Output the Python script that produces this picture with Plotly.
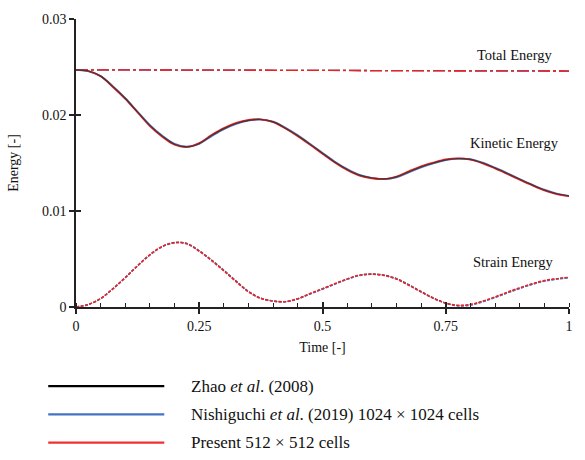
import plotly.graph_objects as go

# ---------------- data ----------------
t_total = [0.0, 0.1, 0.2, 0.3, 0.4, 0.5, 0.6, 0.7, 0.8, 0.9, 1.0]
total_zhao = [0.02471, 0.02469, 0.02467, 0.02465, 0.02464, 0.02463, 0.02462, 0.02461, 0.02460, 0.02459, 0.02458]
total_nishi = [0.02471, 0.02469, 0.02467, 0.02465, 0.02464, 0.02463, 0.02461, 0.02460, 0.02459, 0.02458, 0.02457]
total_present = [0.02471, 0.02470, 0.02468, 0.02466, 0.02465, 0.02464, 0.02462, 0.02461, 0.02460, 0.02459, 0.02458]

t = [0.0, 0.025, 0.05, 0.075, 0.1, 0.125, 0.15, 0.175, 0.2, 0.225, 0.25, 0.275, 0.3, 0.325,
     0.35, 0.375, 0.4, 0.425, 0.45, 0.475, 0.5, 0.525, 0.55, 0.575, 0.6, 0.625, 0.65, 0.675,
     0.7, 0.725, 0.75, 0.775, 0.8, 0.825, 0.85, 0.875, 0.9, 0.925, 0.95, 0.975, 1.0]

kin_zhao = [0.02471, 0.02458, 0.02405, 0.02295, 0.02172, 0.02030, 0.01890, 0.01780, 0.01696, 0.01668,
            0.01703, 0.01786, 0.01858, 0.01912, 0.01944, 0.01953, 0.01928, 0.01863, 0.01784, 0.01694,
            0.01601, 0.01510, 0.01432, 0.01373, 0.01344, 0.01334, 0.01355, 0.01408, 0.01460, 0.01500,
            0.01533, 0.01546, 0.01538, 0.01500, 0.01448, 0.01390, 0.01330, 0.01272, 0.01219, 0.01180,
            0.01157]
kin_nishi = [0.02471, 0.02458, 0.02406, 0.02298, 0.02175, 0.02034, 0.01894, 0.01784, 0.01700, 0.01670,
             0.01700, 0.01780, 0.01853, 0.01908, 0.01941, 0.01952, 0.01930, 0.01866, 0.01788, 0.01698,
             0.01605, 0.01514, 0.01436, 0.01376, 0.01346, 0.01333, 0.01351, 0.01403, 0.01455, 0.01496,
             0.01530, 0.01545, 0.01540, 0.01503, 0.01451, 0.01393, 0.01333, 0.01275, 0.01222, 0.01182,
             0.01158]
kin_present = [0.02471, 0.02457, 0.02403, 0.02292, 0.02168, 0.02026, 0.01885, 0.01774, 0.01690, 0.01667,
               0.01707, 0.01791, 0.01863, 0.01917, 0.01948, 0.01955, 0.01925, 0.01859, 0.01779, 0.01689,
               0.01596, 0.01506, 0.01428, 0.01369, 0.01341, 0.01333, 0.01359, 0.01413, 0.01465, 0.01504,
               0.01537, 0.01548, 0.01535, 0.01497, 0.01444, 0.01386, 0.01326, 0.01268, 0.01215, 0.01177,
               0.01155]

str_zhao = [0.0, 0.00025, 0.00088, 0.00190, 0.00306, 0.00430, 0.00544, 0.00630, 0.00672, 0.00662,
            0.00586, 0.00490, 0.00382, 0.00270, 0.00162, 0.00092, 0.00063, 0.00056, 0.00086, 0.00138,
            0.00188, 0.00240, 0.00290, 0.00330, 0.00344, 0.00332, 0.00296, 0.00232, 0.00162, 0.00094,
            0.00042, 0.00016, 0.00024, 0.00058, 0.00102, 0.00150, 0.00196, 0.00238, 0.00272, 0.00292,
            0.00308]
str_nishi = [0.0, 0.00025, 0.00087, 0.00188, 0.00304, 0.00428, 0.00541, 0.00627, 0.00668, 0.00659,
             0.00583, 0.00486, 0.00378, 0.00266, 0.00159, 0.00090, 0.00062, 0.00054, 0.00083, 0.00135,
             0.00185, 0.00237, 0.00287, 0.00327, 0.00340, 0.00329, 0.00292, 0.00228, 0.00158, 0.00090,
             0.00038, 0.00012, 0.00019, 0.00053, 0.00097, 0.00145, 0.00192, 0.00234, 0.00268, 0.00289,
             0.00304]
str_present = [0.0, 0.00026, 0.00089, 0.00192, 0.00308, 0.00432, 0.00546, 0.00631, 0.00670, 0.00657,
               0.00580, 0.00483, 0.00374, 0.00262, 0.00156, 0.00089, 0.00061, 0.00056, 0.00088, 0.00141,
               0.00191, 0.00243, 0.00293, 0.00332, 0.00342, 0.00328, 0.00290, 0.00226, 0.00156, 0.00090,
               0.00040, 0.00016, 0.00027, 0.00062, 0.00106, 0.00155, 0.00200, 0.00242, 0.00276, 0.00296,
               0.00310]

series_names = ["Zhao <i>et al</i>. (2008)",
                "Nishiguchi <i>et al</i>. (2019) 1024 × 1024 cells",
                "Present 512 × 512 cells"]
series_colors = ["#3a3a3a", "#5577C8", "#FF1A1A"]
legend_colors = ["#000000", "#4472C4", "#F03030"]

x_ticks = [0, 0.25, 0.5, 0.75, 1]
x_ticklabels = ["0", "0.25", "0.5", "0.75", "1"]
y_ticks = [0, 0.01, 0.02, 0.03]
y_ticklabels = ["0", "0.01", "0.02", "0.03"]

curve_labels = ["Total Energy", "Kinetic Energy", "Strain Energy"]

# ---------------- figure ----------------
FONT = "'Liberation Serif', 'Times New Roman', 'DejaVu Serif', serif"
fig = go.Figure()

totals = [total_zhao, total_nishi, total_present]
kins = [kin_zhao, kin_nishi, kin_present]
strs = [str_zhao, str_nishi, str_present]

# total energy: dash-dot
for i in [0, 1, 2]:
    fig.add_trace(go.Scatter(x=t_total, y=totals[i], mode="lines",
                             line=dict(color=series_colors[i], width=1.3, dash="12px,3px,3px,3px"),
                             showlegend=False, hoverinfo="skip"))
# kinetic energy: solid, black on top of red/blue
for i, w in zip([1, 2, 0], [1.8, 1.8, 1.2]):
    fig.add_trace(go.Scatter(x=t, y=kins[i], mode="lines",
                             line=dict(color=series_colors[i], width=w, shape="spline"),
                             showlegend=False, hoverinfo="skip"))
# strain energy: fine dashes
for i in [0, 1, 2]:
    fig.add_trace(go.Scatter(x=t, y=strs[i], mode="lines",
                             line=dict(color=series_colors[i], width=1.4, dash="3px,1.5px", shape="spline"),
                             showlegend=False, hoverinfo="skip"))

# invisible trace to activate overlay axes (for crossing tick marks)
fig.add_trace(go.Scatter(x=[None], y=[None], xaxis="x2", yaxis="y2",
                         showlegend=False, hoverinfo="skip"))

axis_font = dict(family=FONT, size=14, color="#111111")

fig.update_layout(
    width=585, height=460,
    margin=dict(l=76, r=12, t=12, b=153),
    paper_bgcolor="white", plot_bgcolor="white",
    font=dict(family=FONT, size=14, color="#111111"),
    xaxis=dict(range=[0, 1], showgrid=False, zeroline=False,
               showline=True, linecolor="#222222", linewidth=1.5,
               tickmode="array", tickvals=x_ticks, ticktext=x_ticklabels,
               ticks="outside", ticklen=5, tickwidth=1.5, tickcolor="#222222",
               tickfont=axis_font,
               minor=dict(dtick=0.05, tick0=0, ticks="inside", ticklen=4,
                          tickwidth=1, tickcolor="#222222"),
               title=dict(text="Time [-]", font=dict(family=FONT, size=14), standoff=10)),
    yaxis=dict(range=[0, 0.03], showgrid=False, zeroline=False,
               showline=True, linecolor="#222222", linewidth=1.5,
               tickmode="array", tickvals=y_ticks, ticktext=y_ticklabels,
               ticks="outside", ticklen=5, tickwidth=1.5, tickcolor="#222222",
               tickfont=axis_font,
               title=dict(text="Energy [-]", font=dict(family=FONT, size=14), standoff=20)),
    xaxis2=dict(range=[0, 1], overlaying="x", anchor="y", side="bottom",
                showgrid=False, zeroline=False, showline=False, showticklabels=False,
                tickmode="array", tickvals=x_ticks, ticks="inside", ticklen=5,
                tickwidth=1.5, tickcolor="#222222"),
    yaxis2=dict(range=[0, 0.03], overlaying="y", anchor="x", side="left",
                showgrid=False, zeroline=False, showline=False, showticklabels=False,
                tickmode="array", tickvals=y_ticks, ticks="inside", ticklen=5,
                tickwidth=1.5, tickcolor="#222222"),
)

# curve labels
label_pos = [(0.891, 0.0262), (0.889, 0.01705), (0.887, 0.0047)]
for txt, (lx, ly) in zip(curve_labels, label_pos):
    fig.add_annotation(x=lx, y=ly, xref="x", yref="y", text=txt, showarrow=False,
                       font=dict(family=FONT, size=14.5, color="#111111"))

# custom legend below the plot
leg_y = [388, 417, 446]
H = 460
for name, col, py in zip(series_names, legend_colors, leg_y):
    fig.add_shape(type="line", xref="paper", yref="paper",
                  x0=(48 - 76) / 497, x1=(165 - 76) / 497,
                  y0=(H - py - 153) / 295, y1=(H - py - 153) / 295,
                  line=dict(color=col, width=2.2))
    fig.add_annotation(xref="paper", yref="paper",
                       x=(190 - 76) / 497, y=(H - py - 153) / 295,
                       xanchor="left", yanchor="middle", text=name, showarrow=False,
                       font=dict(family=FONT, size=17, color="#111111"))

fig.write_html("out.html")
